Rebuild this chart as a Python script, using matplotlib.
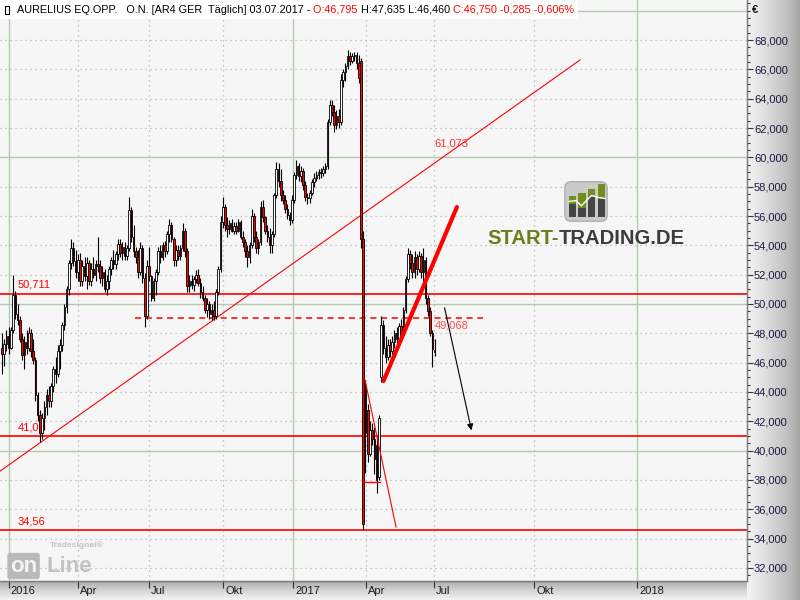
import numpy as np
import matplotlib.pyplot as plt
from matplotlib.patches import Rectangle, FancyBboxPatch
from matplotlib.transforms import offset_copy

plt.rcParams['font.family'] = ['Liberation Sans', 'DejaVu Sans']

# Daily chart, one candle per two trading days (EUR)
opens = [
    47.0, 46.6, 47.3, 47.8, 47.0, 48.2, 50.6, 49.3, 48.9, 47.6,
    46.5, 47.4, 47.0, 48.0, 46.8, 46.2, 43.8, 42.4, 41.2, 42.2,
    43.0, 43.8, 43.4, 44.4, 45.6, 45.2, 46.8, 47.2, 48.6, 49.8,
    51.0, 52.8, 53.8, 52.9, 52.2, 53.0, 51.6, 52.6, 51.9, 52.8,
    51.6, 52.4, 52.0, 52.7, 52.6, 51.8, 52.2, 51.0, 51.6, 52.4,
    53.0, 52.7, 53.4, 54.1, 53.5, 53.9, 53.3, 53.8, 56.4, 54.6,
    53.6, 53.2, 52.2, 53.8, 51.8, 49.2, 52.6, 51.9, 50.4, 51.6,
    52.2, 53.6, 53.2, 54.0, 53.6, 54.8, 55.4, 54.4, 53.0, 53.7,
    53.3, 53.8, 55.0, 53.6, 51.2, 51.6, 51.3, 51.7, 52.0, 51.4,
    50.8, 50.4, 49.6, 50.0, 49.3, 49.6, 49.2, 50.8, 52.4, 55.6,
    56.6, 55.4, 55.1, 55.5, 55.0, 55.3, 55.0, 55.6, 54.6, 54.2,
    53.6, 53.2, 54.0, 56.0, 54.6, 53.8, 54.2, 56.6, 55.9, 55.0,
    54.6, 54.0, 54.8, 57.4, 59.2, 58.4, 57.4, 57.1, 56.5, 56.1,
    55.7, 57.1, 58.8, 59.4, 58.7, 59.1, 58.1, 57.3, 57.2, 57.6,
    58.3, 58.6, 58.8, 59.0, 58.9, 59.2, 59.4, 62.4, 63.6, 63.1,
    62.2, 62.8, 62.4, 65.3, 65.8, 66.2, 66.9, 66.6, 66.9, 67.0,
    66.4, 66.6, 54.4, 44.4, 42.8, 39.8, 41.4, 40.8, 40.4, 38.2,
    45.0, 48.6, 47.0, 46.4, 47.2, 46.8, 47.4, 48.0, 47.6, 48.5,
    48.0, 49.6, 51.7, 53.4, 52.8, 52.2, 53.2, 52.4, 53.3, 52.2,
    53.0, 50.4, 49.5, 48.0, 46.795,
]
highs = [
    48.0, 47.6, 48.2, 48.4, 48.4, 52.0, 50.9, 50.0, 49.2, 48.0,
    47.8, 48.2, 48.4, 48.3, 47.6, 46.4, 44.0, 42.8, 42.6, 43.4,
    44.2, 44.4, 44.6, 45.8, 46.4, 47.2, 47.6, 48.8, 50.0, 51.2,
    53.0, 54.4, 54.2, 53.7, 53.4, 53.5, 53.0, 53.2, 53.2, 53.0,
    52.8, 53.2, 53.0, 54.6, 53.0, 52.6, 52.4, 52.0, 52.6, 53.2,
    53.7, 53.6, 54.4, 54.4, 54.2, 54.2, 54.0, 57.3, 56.6, 55.4,
    53.9, 53.7, 54.2, 54.0, 52.1, 53.0, 53.9, 52.0, 51.8, 52.4,
    53.9, 54.0, 54.2, 54.3, 55.0, 55.8, 55.6, 54.6, 54.0, 54.0,
    54.0, 55.5, 55.2, 53.8, 52.0, 52.0, 51.9, 52.3, 52.4, 51.8,
    51.2, 50.6, 50.4, 50.2, 50.0, 50.2, 51.0, 52.6, 56.0, 57.3,
    56.8, 55.9, 55.7, 55.8, 55.6, 55.6, 55.8, 55.7, 55.0, 54.4,
    54.0, 54.2, 56.5, 56.2, 55.0, 54.4, 57.0, 57.1, 56.0, 55.4,
    55.2, 55.0, 57.6, 59.7, 59.6, 59.2, 57.8, 57.4, 56.8, 56.3,
    57.4, 59.0, 59.8, 59.6, 59.4, 59.3, 58.4, 57.6, 57.8, 58.5,
    58.9, 59.1, 59.2, 59.3, 59.4, 59.6, 62.6, 63.9, 63.9, 63.6,
    63.2, 63.3, 65.7, 66.0, 66.4, 67.3, 67.2, 67.1, 67.2, 67.2,
    67.0, 66.8, 55.0, 44.8, 43.2, 42.0, 41.9, 41.6, 40.9, 42.4,
    49.2, 48.9, 47.8, 47.6, 47.6, 47.8, 48.2, 48.4, 48.7, 49.0,
    49.8, 51.9, 53.8, 53.7, 53.4, 53.6, 53.4, 53.6, 53.5, 53.8,
    53.2, 50.6, 49.8, 48.2, 47.635,
]
lows = [
    45.2, 45.8, 46.8, 46.6, 46.9, 48.0, 49.0, 48.6, 47.4, 46.2,
    45.6, 46.6, 46.8, 46.4, 45.9, 43.4, 42.0, 40.6, 40.8, 41.4,
    42.4, 43.0, 43.0, 44.0, 44.6, 45.0, 45.6, 46.8, 48.2, 49.4,
    50.6, 52.4, 52.6, 51.8, 51.6, 51.2, 51.2, 51.6, 51.0, 51.3,
    51.2, 51.8, 51.6, 52.2, 51.4, 51.2, 50.8, 50.6, 51.0, 52.0,
    52.4, 52.4, 53.0, 53.2, 53.0, 53.0, 53.0, 53.6, 54.2, 53.2,
    52.8, 51.8, 52.0, 51.4, 48.4, 49.0, 51.6, 50.2, 50.2, 50.6,
    52.0, 52.8, 53.0, 53.2, 53.4, 54.2, 54.2, 52.6, 52.6, 53.0,
    53.0, 53.6, 53.2, 50.8, 50.8, 51.0, 50.9, 51.4, 51.2, 50.4,
    50.2, 49.4, 49.1, 49.0, 48.9, 48.9, 49.0, 50.6, 52.2, 55.2,
    55.0, 54.6, 54.8, 54.9, 54.8, 54.8, 54.9, 54.4, 53.9, 53.2,
    52.5, 52.8, 53.8, 54.2, 53.5, 53.4, 54.0, 55.6, 54.8, 54.2,
    53.5, 53.5, 54.6, 57.2, 58.0, 57.0, 56.8, 56.2, 55.8, 55.4,
    55.5, 56.9, 58.5, 58.4, 58.3, 57.8, 57.0, 56.8, 56.9, 57.4,
    58.0, 58.4, 58.5, 58.6, 58.7, 58.9, 59.2, 62.2, 62.8, 61.7,
    61.9, 62.0, 62.2, 64.8, 65.2, 66.0, 66.3, 66.4, 66.6, 66.0,
    65.1, 53.8, 34.6, 38.5, 39.2, 39.6, 40.4, 38.4, 37.1, 38.0,
    44.7, 46.6, 46.0, 46.2, 46.4, 46.6, 47.0, 47.2, 47.4, 47.6,
    47.8, 49.4, 51.5, 52.4, 51.8, 51.8, 52.0, 52.2, 51.8, 51.6,
    50.0, 49.2, 47.8, 45.7, 46.46,
]
closes = [
    46.6, 47.3, 47.8, 47.0, 48.2, 50.6, 49.3, 48.9, 47.6, 46.5,
    47.4, 47.0, 48.0, 46.8, 46.2, 43.8, 42.4, 41.2, 42.2, 43.0,
    43.8, 43.4, 44.4, 45.6, 45.2, 46.8, 47.2, 48.6, 49.8, 51.0,
    52.8, 53.8, 52.9, 52.2, 53.0, 51.6, 52.6, 51.9, 52.8, 51.6,
    52.4, 52.0, 52.7, 52.6, 51.8, 52.2, 51.0, 51.6, 52.4, 53.0,
    52.7, 53.4, 54.1, 53.5, 53.9, 53.3, 53.8, 56.4, 54.6, 53.6,
    53.2, 52.2, 53.8, 51.8, 49.2, 52.6, 51.9, 50.4, 51.6, 52.2,
    53.6, 53.2, 54.0, 53.6, 54.8, 55.4, 54.4, 53.0, 53.7, 53.3,
    53.8, 55.0, 53.6, 51.2, 51.6, 51.3, 51.7, 52.0, 51.4, 50.8,
    50.4, 49.6, 50.0, 49.3, 49.6, 49.2, 50.8, 52.4, 55.6, 56.6,
    55.4, 55.1, 55.5, 55.0, 55.3, 55.0, 55.6, 54.6, 54.2, 53.6,
    53.2, 54.0, 56.0, 54.6, 53.8, 54.2, 56.6, 55.9, 55.0, 54.6,
    54.0, 54.8, 57.4, 59.2, 58.4, 57.4, 57.1, 56.5, 56.1, 55.7,
    57.1, 58.8, 59.4, 58.7, 59.1, 58.1, 57.3, 57.2, 57.6, 58.3,
    58.6, 58.8, 59.0, 58.9, 59.2, 59.4, 62.4, 63.6, 63.1, 62.2,
    62.8, 62.4, 65.3, 65.8, 66.2, 66.9, 66.6, 66.9, 67.0, 66.4,
    65.4, 54.4, 35.0, 41.2, 39.8, 41.4, 40.8, 39.4, 38.0, 42.2,
    48.6, 47.0, 46.4, 47.2, 46.8, 47.4, 48.0, 47.6, 48.5, 48.0,
    49.6, 51.7, 53.4, 52.8, 52.2, 53.2, 52.4, 53.3, 52.2, 53.0,
    50.4, 49.5, 48.0, 46.9, 46.75,
]

# horizontal levels drawn on the chart
levels_solid = [50.711, 41.01, 34.56]
level_labels = ["50,711", "41,01", "34,56"]
level_dashed = 49.068

# hand drawn lines (candle index, price)
trend_up = ([-0.9, 259.2], [38.6, 66.64])
trend_rebound = ([171.1, 204.0], [44.75, 56.61])
trend_crash = ([162.8, 176.7], [44.82, 34.79])
crash_mark = ([161.9, 169.5], [37.88, 37.88])
dashed_span = [59.6, 215.7]
arrow_path = ([198.2, 210.8], [49.93, 41.2])

tick_labels = ["2016", "Apr", "Jul", "Okt", "2017", "Apr", "Jul", "Okt", "2018"]
tick_pos = [3.0, 34.1, 65.7, 99.1, 130.5, 163.2, 193.7, 238.6, 284.8]
year_ticks = [0, 4, 8]

header = [("AURELIUS EQ.OPP.   O.N. [AR4 GER  Täglich] 03.07.2017 - ", 'black'),
          ("O:46,795 ", '#ff0000'),
          ("H:47,635 L:46,460 ", 'black'),
          ("C:46,750 -0,285 -0,606%", '#ff0000')]


def text_row(fig, x, y, parts, **kw):
    """Write coloured text pieces one after another; return the end x."""
    renderer = fig.canvas.get_renderer()
    width = fig.bbox.width
    for s, col in parts:
        t = fig.text(x, y, s, color=col, **kw)
        bb = t.get_window_extent(renderer)
        x = bb.x1 / width
    return x


fig = plt.figure(figsize=(8, 6), dpi=100)
fig.patch.set_facecolor('#f4f4f4')

# right axis panel and bottom axis panel with soft gradients
grad = np.linspace(0, 1, 256)
rax = fig.add_axes([747 / 800, 0, 53 / 800, 1], zorder=-2)
rax.imshow(grad[None, :], aspect='auto', cmap='Greys', vmin=-0.3, vmax=2.6,
           extent=[0, 1, 0, 1])
rax.axis('off')
bax = fig.add_axes([0, 0, 747 / 800, 19 / 600], zorder=-2)
bax.imshow(grad[:, None][::-1], aspect='auto', cmap='Greys', vmin=-0.3, vmax=2.6,
           extent=[0, 1, 0, 1])
bax.axis('off')

ax = fig.add_axes([0, 19 / 600, 747 / 800, 581 / 600])
ax.set_facecolor('#f6f6f6')
ax.set_xlim(-0.9, 334.1)
ax.set_ylim(31.11, 70.73)

# grid: dotted every 2 EUR / quarter, green solid every 10 EUR / year
for v in np.arange(32, 71, 2):
    if v % 10 == 0:
        ax.axhline(v, color='#b3c9b0', lw=1.0, zorder=1)
    else:
        ax.axhline(v, color='#b4b4b4', lw=0.9, ls=(0, (1, 3)), zorder=1)
for i, p in enumerate(tick_pos):
    if i in year_ticks:
        ax.axvline(p, color='#b3c9b0', lw=1.0, zorder=1)
    else:
        ax.axvline(p, color='#b4b4b4', lw=0.9, ls=(0, (1, 3)), zorder=1)

# level lines and labels
for v, lab in zip(levels_solid, level_labels):
    ax.axhline(v, color='#ff0000', lw=1.2, zorder=2)
    ax.text(7, v + 0.25, lab, color='#ff0000', fontsize=8, va='bottom', zorder=2)
ax.plot(dashed_span, [level_dashed] * 2, color='#ff0000', lw=1.1,
        ls=(0, (4, 3)), zorder=2)
ax.text(194, level_dashed - 0.2, "49,068", color='#ff5050', fontsize=8,
        va='top', zorder=6)
ax.plot(*trend_up, color='#ff0000', lw=0.8, zorder=2)
ax.text(194, 60.6, "61,073", color='#ff3030', fontsize=8, va='bottom', zorder=2)

# candles
x = np.arange(len(closes))
o, h, l, c = (np.array(a) for a in (opens, highs, lows, closes))
up = c >= o
ax.vlines(x, l, h, color='black', lw=0.8, zorder=3)
body = np.maximum(np.abs(c - o), 0.08)
ax.bar(x, body, bottom=np.minimum(o, c), width=0.72,
       color=np.where(up, 'white', '#ff0000'), edgecolor='black',
       linewidth=0.6, zorder=4)

# drawings on top of the candles
ax.plot(*trend_rebound, color='#ff0000', lw=3.0, solid_capstyle='round', zorder=5)
ax.plot(*trend_crash, color='#ff0000', lw=0.8, zorder=5)
ax.plot(*crash_mark, color='#ff0000', lw=1.0, zorder=5)
ax.annotate("", xy=(arrow_path[0][1], arrow_path[1][1]),
            xytext=(arrow_path[0][0], arrow_path[1][0]),
            arrowprops=dict(arrowstyle='-|>', color='black', lw=0.8,
                            mutation_scale=9), zorder=5)

# axes styling
for s in ('top', 'left'):
    ax.spines[s].set_visible(False)
for s in ('right', 'bottom'):
    ax.spines[s].set_color('#7a7a7a')
    ax.spines[s].set_linewidth(1.0)

ax.yaxis.tick_right()
ax.set_yticks(np.arange(32, 69, 2))
ax.set_yticklabels([f"{v:.3f}".replace('.', ',') for v in np.arange(32, 69, 2)])
ax.set_yticks(np.arange(31.5, 70.6, 0.5), minor=True)
ax.tick_params(axis='y', which='major', direction='out', length=4, width=0.8,
               pad=1, labelsize=8, labelcolor='#1a1a40', color='#333333')
ax.tick_params(axis='y', which='minor', direction='out', length=2, width=0.8,
               color='#333333')

ax.set_xticks(tick_pos)
ax.set_xticklabels([])
ax.tick_params(axis='x', direction='out', length=5, width=0.8, color='#333333')
lab_tr = offset_copy(ax.get_xaxis_transform(), fig=fig, x=1.5, y=-3.5, units='points')
for p, lab in zip(tick_pos, tick_labels):
    ax.text(p, 0, lab, transform=lab_tr, ha='left', va='top', fontsize=8,
            color='#1a1a1a', clip_on=False)

fig.text(752 / 800, 1 - 10 / 600, "€", fontsize=8, va='center', weight='bold',
         color='#1a1a1a')

# header line on a white strip
strip = Rectangle((0, 1 - 19 / 600), 570 / 800, 19 / 600,
                  transform=fig.transFigure, fc='white', ec='none', zorder=5)
fig.patches.append(strip)
fig.patches.append(Rectangle((5 / 800, 1 - 14 / 600), 4 / 800, 8 / 600,
                             transform=fig.transFigure, fc='white', ec='black',
                             lw=0.8, zorder=6))
end_x = text_row(fig, 17 / 800, 1 - 10 / 600, header, fontsize=7.8,
                 va='center', zorder=7)
strip.set_width(end_x + 4 / 800)

# START-TRADING.DE logo
lax = fig.add_axes([563 / 800, 1 - 223 / 600, 46 / 800, 43 / 600])
lax.set_xlim(0, 1)
lax.set_ylim(0, 1)
lax.axis('off')
lax.add_patch(FancyBboxPatch((0.04, 0.04), 0.92, 0.92,
                             boxstyle='round,pad=0,rounding_size=0.14',
                             fc='#cacaca', ec='#a5a5a5', lw=0.8))
bar_left = [0.12, 0.33, 0.54, 0.75]
bar_mid = [0.45, 0.36, 0.60, 0.55]
bar_top = [0.62, 0.70, 0.80, 0.90]
for bl, bm, bt in zip(bar_left, bar_mid, bar_top):
    lax.add_patch(Rectangle((bl, 0.15), 0.16, bm - 0.15, fc='#454545', ec='none'))
    lax.add_patch(Rectangle((bl, bm), 0.16, bt - bm, fc='#6f8e1e', ec='none'))
lax.plot([0.12, 0.28, 0.40, 0.62, 0.75, 0.91], [0.50, 0.52, 0.40, 0.64, 0.60, 0.57],
         color='white', lw=1.0)
text_row(fig, 487 / 800, 1 - 238 / 600,
         [("START-", '#6b7d1c'), ("TRADING.DE", '#3c3c3c')],
         fontsize=14.6, weight='bold', va='center')

# Tradesignal online logo
fig.text(10 / 800, 1 - 566 / 600, "on", fontsize=16, weight='bold', color='#f4f4f4',
         va='center', bbox=dict(boxstyle='round,pad=0.12', fc='#b9b9b9', ec='none'))
fig.text(47 / 800, 1 - 566 / 600, "Line", fontsize=16, weight='bold',
         color='#c2c2c2', va='center')
fig.text(50 / 800, 1 - 545 / 600, "Tradesignal®", fontsize=6, weight='bold',
         color='#c4c4c4', va='center')

fig.savefig('out.png', dpi=100, facecolor=fig.get_facecolor())
